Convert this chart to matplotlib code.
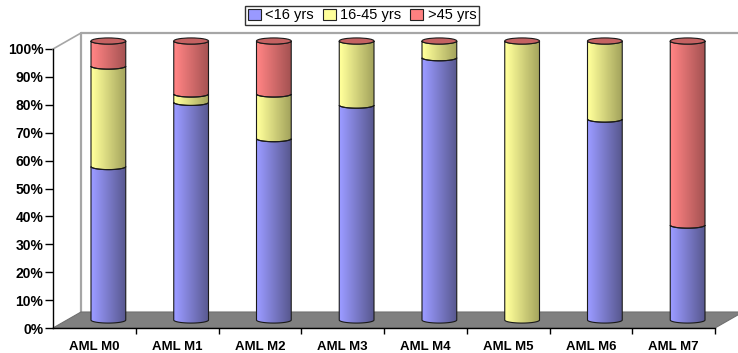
import matplotlib
matplotlib.use("Agg")
import matplotlib.pyplot as plt
import matplotlib.transforms as mtransforms
from matplotlib.colors import to_rgb
from matplotlib.patches import Patch, PathPatch, Polygon, Ellipse
from matplotlib.path import Path
import numpy as np

plt.rcParams["font.family"] = ["Liberation Sans", "DejaVu Sans"]

# Age distribution (%) by AML subtype
categories = ["AML M0", "AML M1", "AML M2", "AML M3", "AML M4", "AML M5", "AML M6", "AML M7"]
under_16 = [55, 78, 65, 77, 94, 0, 72, 34]
age_16_45 = [36, 3, 16, 23, 6, 100, 28, 0]
over_45 = [9, 19, 19, 0, 0, 0, 0, 66]
series_names = ["<16 yrs", "16-45 yrs", ">45 yrs"]
yticks = list(range(0, 101, 10))

# light (left) / dark (right) shades for the cylinder gradients
shades = [("#9a9aff", "#58588f"), ("#ffff9a", "#a3a35c"), ("#ff8383", "#a45252")]
swatches = ["#9999ff", "#ffff99", "#ff8080"]
cap_color = "#c46262"

fig = plt.figure(figsize=(7.38, 3.53), dpi=100)
ax = fig.add_axes([53 / 738, 25 / 353, 662 / 738, 279 / 353])
ax.set_xlim(-0.5, len(categories) - 0.5)
ax.set_ylim(0, 100)
x0, x1 = ax.get_xlim()

# depth offsets (inches): back wall and middle of the floor
back = ax.transData + mtransforms.ScaledTranslation(0.28, 0.16, fig.dpi_scale_trans)
mid = ax.transData + mtransforms.ScaledTranslation(0.14, 0.08, fig.dpi_scale_trans)
ident = mtransforms.IdentityTransform()


def disp(tr, pts):
    return tr.transform(np.asarray(pts, dtype=float))


# floor
floor = np.vstack([disp(ax.transData, [(x0, 0), (x1, 0)]),
                   disp(back, [(x1, 0), (x0, 0)])])
ax.add_patch(Polygon(floor, closed=True, transform=ident, facecolor="#808080",
                     edgecolor="#707070", lw=0.8, zorder=1, clip_on=False))

# back / side wall outline
wall_col = "#a6a6a6"
ax.plot([x0, x0, x1], [0, 100, 100], color=wall_col, lw=1.6, transform=back,
        clip_on=False, zorder=0.5)
diag = np.vstack([disp(ax.transData, [(x0, 100)]), disp(back, [(x0, 100)])])
ax.plot(diag[:, 0], diag[:, 1], transform=ident, color=wall_col, lw=1.2, clip_on=False)

# cylinders
bar_w = 0.42
a = bar_w / 2
b = 1.1  # half height of the ellipses, in % units
t_low = np.linspace(np.pi, 2 * np.pi, 40)


def side_path(xc, y0, y1):
    lower = np.column_stack([xc + a * np.cos(t_low), y0 + b * np.sin(t_low)])
    upper = np.column_stack([xc + a * np.cos(t_low), y1 + b * np.sin(t_low)])[::-1]
    verts = np.vstack([[(xc - a, y1)], lower, upper, [(xc - a, y1)]])
    codes = [Path.MOVETO] + [Path.LINETO] * (len(verts) - 2) + [Path.CLOSEPOLY]
    return Path(verts, codes)


def gradient(c_left, c_right, n=64):
    l, r = np.array(to_rgb(c_left)), np.array(to_rgb(c_right))
    s = np.linspace(0, 1, n)[:, None]
    s = np.clip(s * 1.05 - 0.05, 0, 1)
    return (l + (r - l) * s)[None, :, :]


for i in range(len(categories)):
    bottom = 0
    for k, vals in enumerate([under_16, age_16_45, over_45]):
        v = vals[i]
        if v <= 0:
            continue
        top = bottom + v
        path = side_path(i, bottom, top)
        outline = PathPatch(path, facecolor="none", edgecolor="#1a1a1a", lw=0.8,
                            transform=mid, zorder=4, clip_on=False)
        ax.add_patch(outline)
        im = ax.imshow(gradient(*shades[k]), extent=(i - a, i + a, bottom - b, top),
                       aspect="auto", transform=mid, zorder=3, interpolation="bilinear")
        im.set_clip_path(outline)
        im.set_clip_box(fig.bbox)
        bottom = top
    cap = Ellipse((i, 100), 2 * a, 2 * b, transform=mid, facecolor=cap_color,
                  edgecolor="#1a1a1a", lw=0.8, zorder=5, clip_on=False)
    ax.add_patch(cap)

ax.set_xlim(x0, x1)
ax.set_ylim(0, 100)

# axes
for s in ["top", "right"]:
    ax.spines[s].set_visible(False)
for s in ["left", "bottom"]:
    ax.spines[s].set_color("black")
    ax.spines[s].set_linewidth(1.0)
    ax.spines[s].set_zorder(6)
ax.set_yticks(yticks)
ax.set_yticklabels([f"{t}%" for t in yticks], fontsize=10, fontweight="bold")
ax.tick_params(axis="y", length=6, width=1, pad=1)
ax.set_xticks(range(len(categories)))
ax.set_xticklabels(categories, fontsize=9.5, fontweight="bold")
ax.set_xticks(np.arange(x0 + 1, x1 + 0.01, 1), minor=True)
ax.tick_params(axis="x", which="major", length=0, pad=9)
ax.tick_params(axis="x", which="minor", length=4, width=1)

handles = [Patch(facecolor=c, edgecolor="#222222", lw=0.8) for c in swatches]
fig.legend(handles, series_names, loc="center", bbox_to_anchor=(362 / 738, 1 - 15.5 / 353),
           ncol=3, fontsize=10.5, frameon=True, fancybox=False, edgecolor="black",
           handlelength=0.9, handleheight=0.75, handletextpad=0.3, columnspacing=0.6,
           borderpad=0.2, borderaxespad=0)

fig.savefig("out.png", dpi=100)
